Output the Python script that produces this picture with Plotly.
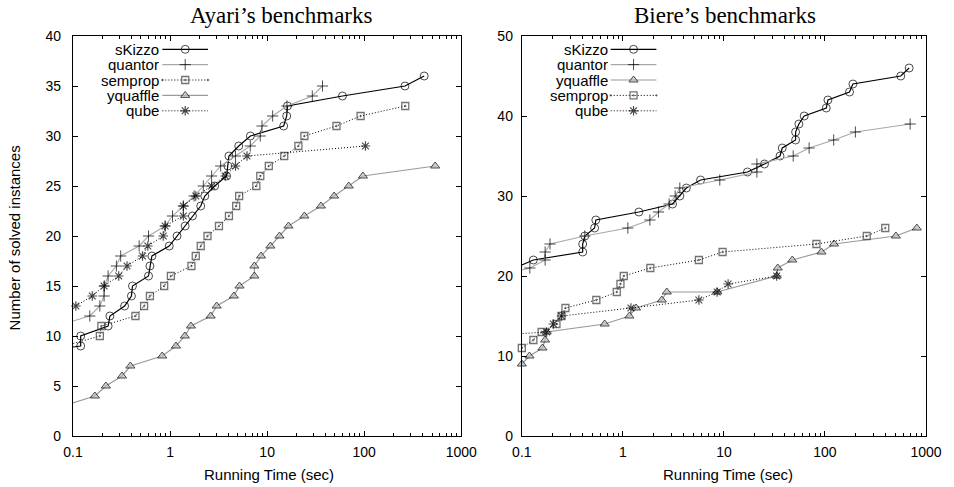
import plotly.graph_objects as go

# ---------------- data: Ayari's benchmarks (running time in sec, solved count) ----------------
a_skizzo_t = [0.02, 0.12, 0.12, 0.23, 0.24, 0.34, 0.40, 0.41, 0.60, 0.62, 0.65, 0.98, 1.18, 1.43, 1.70,
              2.07, 2.28, 2.88, 3.82, 3.94, 4.04, 5.1, 6.72, 14.8, 15.9, 16.2, 59.7, 263, 415]
a_skizzo_n = [8, 9, 10, 11, 12, 13, 14, 15, 16, 17, 18, 19, 20, 21, 22,
              23, 24, 25, 26, 27, 28, 29, 30, 31, 32, 33, 34, 35, 36]

a_quantor_t = [0.067, 0.149, 0.189, 0.209, 0.21, 0.23, 0.28, 0.31, 0.48, 0.60, 0.89, 1.06, 1.37,
               1.77, 2.2, 2.68, 3.32, 4.72, 6.7, 8.5, 8.85, 11.4, 16.0, 29.2, 37.2]
a_quantor_n = [11, 12, 13, 14, 15, 16, 17, 18, 19, 20, 21, 22, 23,
               24, 25, 26, 27, 28, 29, 30, 31, 32, 33, 34, 35]

a_semprop_t = [0.082, 0.189, 0.196, 0.44, 0.54, 0.62, 0.87, 1.02, 1.66, 1.84, 2.07, 2.43, 3.19,
               4.04, 4.8, 5.15, 7.74, 8.5, 10.4, 15.0, 21.0, 24.2, 51.8, 91.8, 265]
a_semprop_n = [9, 10, 11, 12, 13, 14, 15, 16, 17, 18, 19, 20, 21,
               22, 23, 24, 25, 26, 27, 28, 29, 30, 31, 32, 33]

a_yquaffle_t = [0.08, 0.168, 0.218, 0.32, 0.39, 0.83, 1.15, 1.42, 1.64, 2.62, 3.02, 4.54, 5.19,
                7.39, 7.39, 8.65, 10.8, 13.4, 16.6, 24.2, 35.8, 49.0, 69.3, 97.0, 538]
a_yquaffle_n = [3, 4, 5, 6, 7, 8, 9, 10, 11, 12, 13, 14, 15,
                16, 17, 18, 19, 20, 21, 22, 23, 24, 25, 26, 27]

a_qube_t = [0.107, 0.158, 0.209, 0.296, 0.36, 0.52, 0.59, 0.85, 0.89, 1.37, 1.37, 1.84, 2.68,
            3.7, 4.72, 6.2, 103]
a_qube_n = [13, 14, 15, 16, 17, 18, 19, 20, 21, 22, 23, 24, 25,
            26, 27, 28, 29]

# ---------------- data: Biere's benchmarks ----------------
b_skizzo_t = [0.085, 0.13, 0.40, 0.40, 0.42, 0.525, 0.54, 1.44, 3.1, 3.66, 4.25, 5.87, 17.1,
              25.2, 35.9, 37.8, 51.2, 51.2, 55.2, 62.3, 103, 107, 175, 189, 563, 681]
b_skizzo_n = [21, 22, 23, 24, 25, 26, 27, 28, 29, 30, 31, 32, 33,
              34, 35, 36, 37, 38, 39, 40, 41, 42, 43, 44, 45, 46]

b_quantor_t = [0.056, 0.12, 0.17, 0.17, 0.19, 0.42, 1.12, 1.85, 2.25, 2.87, 3.29, 3.66, 9.1,
               21.2, 21.2, 48.5, 69.7, 122, 200, 697]
b_quantor_n = [20, 21, 22, 23, 24, 25, 26, 27, 28, 29, 30, 31, 32,
               33, 34, 35, 36, 37, 38, 39]

b_yquaffle_t = [0.1, 0.119, 0.16, 0.17, 0.176, 0.66, 1.16, 1.35, 2.43, 2.72, 8.57, 33.3,
                34.1, 47.5, 92.3, 123, 503, 811]
b_yquaffle_n = [9, 10, 11, 12, 13, 14, 15, 16, 17, 18, 18, 20,
                21, 22, 23, 24, 25, 26]

b_semprop_t = [0.1, 0.13, 0.157, 0.22, 0.247, 0.27, 0.546, 0.87, 0.946, 1.02, 1.87, 5.65,
               9.7, 82.4, 259, 395]
b_semprop_n = [11, 12, 13, 14, 15, 16, 17, 18, 19, 20, 21, 22,
               23, 24, 25, 26]

b_qube_t = [0.01, 0.176, 0.205, 0.247, 1.2, 5.65, 8.57, 11.0, 33.3]
b_qube_n = [12, 13, 14, 15, 16, 17, 18, 19, 20]

# ---------------- ticks / labels ----------------
x_tickvals = [0.1, 1, 10, 100, 1000]
x_ticktext = ["0.1", "1", "10", "100", "1000"]
a_y_ticks = [0, 5, 10, 15, 20, 25, 30, 35, 40]
b_y_ticks = [0, 10, 20, 30, 40, 50]

titles = ["Ayari\u2019s benchmarks", "Biere\u2019s benchmarks"]
x_title = "Running Time (sec)"
y_title = "Number of solved instances"

a_series = [("sKizzo", a_skizzo_t, a_skizzo_n),
            ("quantor", a_quantor_t, a_quantor_n),
            ("semprop", a_semprop_t, a_semprop_n),
            ("yquaffle", a_yquaffle_t, a_yquaffle_n),
            ("qube", a_qube_t, a_qube_n)]
b_series = [("sKizzo", b_skizzo_t, b_skizzo_n),
            ("quantor", b_quantor_t, b_quantor_n),
            ("yquaffle", b_yquaffle_t, b_yquaffle_n),
            ("semprop", b_semprop_t, b_semprop_n),
            ("qube", b_qube_t, b_qube_n)]

# ---------------- styles ----------------
DOTS = "1px,2px"
styles = {
    "sKizzo":   dict(line=dict(color="black", width=1.2, dash="solid"),
                     marker=dict(symbol="circle-open", size=8, color="black", line=dict(width=1, color="black"))),
    "quantor":  dict(line=dict(color="#a8a8a8", width=1.1, dash="solid"),
                     marker=dict(symbol="cross-thin-open", size=8, color="black", line=dict(width=1, color="black"))),
    "semprop":  dict(line=dict(color="black", width=1.0, dash=DOTS),
                     marker=dict(symbol="square-open-dot", size=7, color="#383838", line=dict(width=1.3, color="#383838"))),
    "yquaffle": dict(line=dict(color="#9a9a9a", width=1.2, dash="solid"),
                     marker=dict(symbol="triangle-up", size=8, color="#bdbdbd", line=dict(width=1, color="black"))),
    "qube":     dict(line=dict(color="black", width=1.0, dash=DOTS),
                     marker=dict(symbol="asterisk-open", size=8, color="black", line=dict(width=1.2, color="black"))),
}

XMIN = 0.1
FONT = "Liberation Sans, Arial, Helvetica, sans-serif"

fig = go.Figure()


def add_series(series, xa, ya):
    for name, t, n in series:
        st = styles[name]
        sizes = [st["marker"]["size"] if v >= XMIN else 0 for v in t]
        mk = dict(st["marker"])
        mk["size"] = sizes
        fig.add_trace(go.Scatter(x=t, y=n, mode="lines+markers", name=name,
                                 line=st["line"], marker=mk, cliponaxis=False,
                                 xaxis=xa, yaxis=ya, showlegend=False, hoverinfo="x+y+name"))


add_series(a_series, "x", "y")
add_series(b_series, "x2", "y2")

# ---------------- gnuplot-style keys (text right, sample line + symbol) ----------------
L = 73.0
R = 932.0
T = 36.0
B = 436.0
PW = R - L
PH = B - T
left_box = (73.0, 464.0)
right_box = (525.0, 932.0)
row_py = [49.3, 64.6, 80.0, 95.4, 110.8]


def add_key(series, box, xa, ya, text_right_px, s0_px, s1_px):
    w = box[1] - box[0]
    for i, (name, t, n) in enumerate(series):
        st = styles[name]
        yy = (B - row_py[i]) / PH
        x0 = (s0_px - box[0]) / w
        x1 = (s1_px - box[0]) / w
        xm = (x0 + x1) / 2
        mk = dict(st["marker"])
        mk["size"] = [0, st["marker"]["size"], 0]
        fig.add_trace(go.Scatter(x=[x0, xm, x1], y=[yy, yy, yy], mode="lines+markers",
                                 line=st["line"], marker=mk, xaxis=xa, yaxis=ya,
                                 showlegend=False, hoverinfo="skip", cliponaxis=False))
        fig.add_annotation(x=(text_right_px - L) / PW, y=yy, xref="paper", yref="paper",
                           text=name, showarrow=False, xanchor="right", yanchor="middle",
                           borderpad=0, font=dict(family=FONT, size=15, color="black"))


add_key(a_series, left_box, "x3", "y3", 160.5, 163.0, 209.0)
add_key(b_series, right_box, "x4", "y4", 612.5, 614.5, 660.5)

# ---------------- titles ----------------
for ttl, cx in zip(titles, [283.0, 730.0]):
    fig.add_annotation(x=(cx - L) / PW, y=(B - 15.0) / PH, xref="paper", yref="paper",
                       text=ttl, showarrow=False, xanchor="center", yanchor="middle",
                       font=dict(family="Liberation Serif, Times New Roman, serif", size=23, color="black"))
for cx in [270.0, 733.0]:
    fig.add_annotation(x=(cx - L) / PW, y=(B - 474.0) / PH, xref="paper", yref="paper",
                       text=x_title, showarrow=False, xanchor="center", yanchor="middle",
                       font=dict(family=FONT, size=15, color="black"))
fig.add_annotation(x=(14.0 - L) / PW, y=(B - 238.0) / PH, xref="paper", yref="paper",
                   text=y_title, showarrow=False, xanchor="center", yanchor="middle", textangle=-90,
                   font=dict(family=FONT, size=15, color="black"))

# ---------------- axes ----------------
minor_vals = [m * d for d in [0.1, 1, 10, 100] for m in range(2, 10)]

common_x = dict(type="log", range=[-1, 3], tickmode="array", tickvals=x_tickvals, ticktext=x_ticktext,
                ticks="inside", ticklen=5, tickwidth=1, tickcolor="black",
                showline=True, linecolor="black", linewidth=1.2, mirror="ticks",
                showgrid=False, zeroline=False, ticklabelstandoff=3,
                tickfont=dict(family=FONT, size=14, color="black"),
                minor=dict(tickmode="array", tickvals=minor_vals, ticks="inside", ticklen=3,
                           tickcolor="black", tickwidth=1, showgrid=False))
common_y = dict(ticks="inside", ticklen=5, tickwidth=1, tickcolor="black",
                showline=True, linecolor="black", linewidth=1.2, mirror="ticks",
                showgrid=False, zeroline=False,
                tickfont=dict(family=FONT, size=14, color="black"))

dl = [0.0, (left_box[1] - L) / PW]
dr = [(right_box[0] - L) / PW, 1.0]

fig.update_layout(
    width=954, height=487,
    margin=dict(l=int(L), r=int(954 - R), t=int(T), b=int(487 - B), pad=0),
    paper_bgcolor="white", plot_bgcolor="white", showlegend=False,
    xaxis=dict(domain=dl, anchor="y", **common_x),
    yaxis=dict(domain=[0, 1], anchor="x", range=[0, 40], tickmode="array", tickvals=a_y_ticks,
               ticklabelstandoff=8, **common_y),
    xaxis2=dict(domain=dr, anchor="y2", **common_x),
    yaxis2=dict(domain=[0, 1], anchor="x2", range=[0, 50], tickmode="array", tickvals=b_y_ticks,
                ticklabelstandoff=5, **common_y),
    xaxis3=dict(overlaying="x", range=[0, 1], visible=False, fixedrange=True),
    yaxis3=dict(overlaying="y", range=[0, 1], visible=False, fixedrange=True),
    xaxis4=dict(overlaying="x2", range=[0, 1], visible=False, fixedrange=True),
    yaxis4=dict(overlaying="y2", range=[0, 1], visible=False, fixedrange=True),
)

fig.write_html("out.html", config={"displayModeBar": False},
               post_script="document.body.style.margin='0';document.body.style.overflow='hidden';")
